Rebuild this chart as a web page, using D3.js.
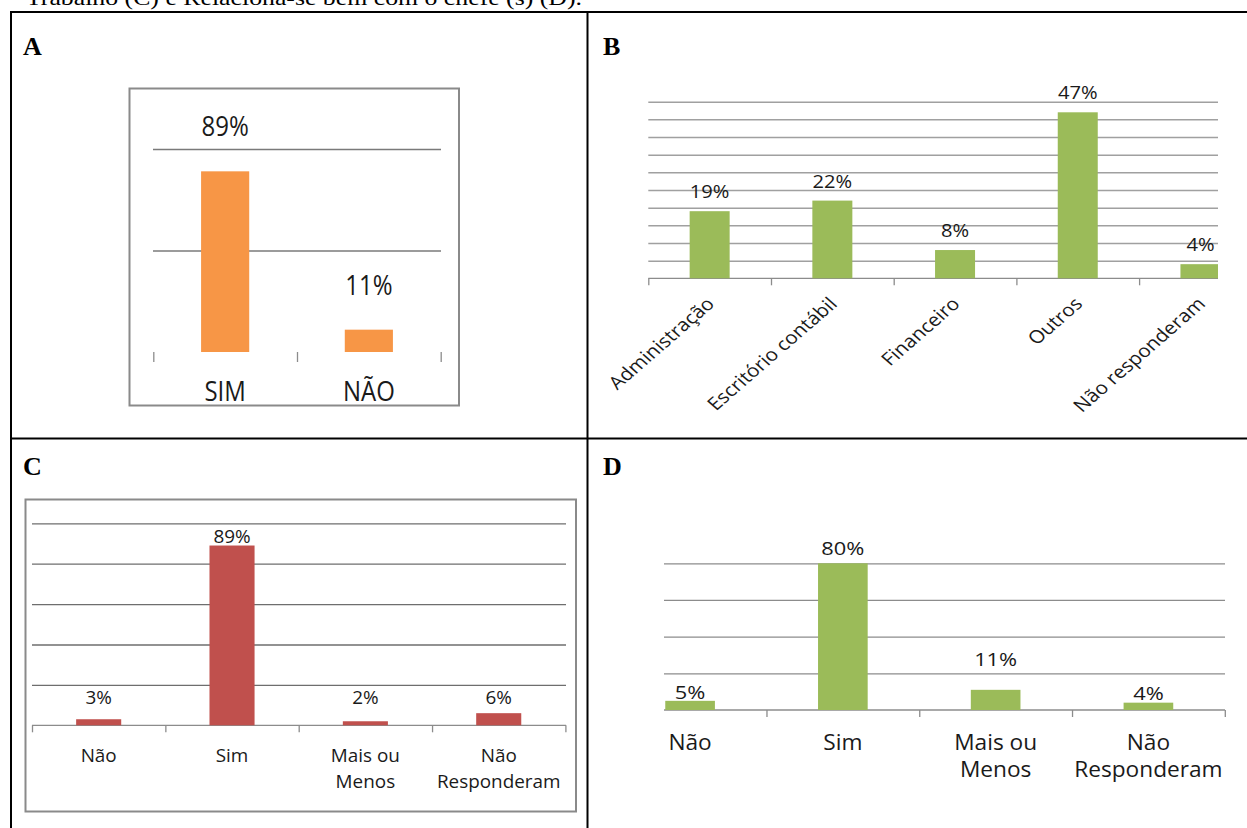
<!DOCTYPE html>
<html>
<head>
<meta charset="utf-8">
<script src="https://cdn.jsdelivr.net/npm/d3@7"></script>
<style>
  html, body { margin: 0; padding: 0; background: #fff; }
  svg { display: block; }
</style>
</head>
<body>
<svg id="fig" width="1247" height="828"></svg>
<script>
// ---- Painel A: trabalha na área? ----
const catA = ["SIM", "NÃO"];
const valA = [0.89, 0.11];
const gridA = [0.5, 1.0];

// ---- Painel B: área de atuação ----
const catB = ["Administração", "Escritório contábil", "Financeiro", "Outros", "Não responderam"];
const valB = [0.19, 0.22, 0.08, 0.47, 0.04];
const gridB = [0.05, 0.10, 0.15, 0.20, 0.25, 0.30, 0.35, 0.40, 0.45, 0.50];

// ---- Painel C: satisfação com o trabalho ----
const catC = [["Não"], ["Sim"], ["Mais ou", "Menos"], ["Não", "Responderam"]];
const valC = [0.03, 0.89, 0.02, 0.06];
const gridC = [0.2, 0.4, 0.6, 0.8, 1.0];

// ---- Painel D: relaciona-se bem com o chefe ----
const catD = [["Não"], ["Sim"], ["Mais ou", "Menos"], ["Não", "Responderam"]];
const valD = [0.05, 0.80, 0.11, 0.04];
const gridD = [0.2, 0.4, 0.6, 0.8];
const liftD = [2, 8, 24, 3];   // afastamento dos rótulos acima das barras

const pct = d3.format(".0%");
const svg = d3.select("#fig");
const defs = svg.append("defs");

svg.append("rect").attr("width", 1247).attr("height", 828).attr("fill", "#fff");

// texto do documento, cortado no topo
svg.append("text")
  .attr("x", 26).attr("y", 5)
  .attr("font-family", "'Liberation Serif', 'Times New Roman', serif")
  .attr("font-size", 21)
  .attr("textLength", 556).attr("lengthAdjust", "spacingAndGlyphs")
  .text("Trabalho (C) e Relaciona-se bem com o chefe (s) (D).");

// grade da tabela
const tbl = svg.append("g").attr("stroke", "#000").attr("stroke-width", 2);
tbl.append("line").attr("x1", 10).attr("x2", 1247).attr("y1", 12).attr("y2", 12);
tbl.append("line").attr("x1", 10).attr("x2", 1247).attr("y1", 438.5).attr("y2", 438.5);
tbl.append("line").attr("x1", 11).attr("x2", 11).attr("y1", 11).attr("y2", 828);
tbl.append("line").attr("x1", 587.5).attr("x2", 587.5).attr("y1", 11).attr("y2", 828);

// letras dos painéis
[["A", 23, 55], ["B", 603, 55], ["C", 23, 475], ["D", 603, 475]].forEach(([t, x, y]) => {
  svg.append("text").attr("x", x).attr("y", y)
    .attr("font-family", "'Liberation Serif', 'Times New Roman', serif")
    .attr("font-weight", "bold").attr("font-size", 26).text(t);
});

function label(g, x, y, lines, o) {
  const t = g.append("text")
    .attr("transform", `translate(${x},${y}) scale(${o.sx || 1},${o.sy || 1})${o.rot ? ` rotate(${o.rot})` : ""}`)
    .attr("font-family", "'Open Sans', 'Noto Sans', sans-serif")
    .attr("font-size", o.size)
    .attr("fill", "#1a1a1a")
    .attr("text-anchor", o.anchor || "middle");
  lines.forEach((s, i) => t.append("tspan").attr("x", 0).attr("y", i * (o.lh || 0)).text(s));
  return t;
}

function panel(o) {
  const g = svg.append("g");
  if (o.clip) {
    const id = "clip" + o.name;
    defs.append("clipPath").attr("id", id).append("rect")
      .attr("x", o.clip[0]).attr("y", o.clip[1]).attr("width", o.clip[2]).attr("height", o.clip[3]);
    g.attr("clip-path", `url(#${id})`);
  }
  const n = o.vals.length;
  const x = d3.scaleBand().domain(d3.range(n)).range([o.x0, o.x1]).padding(0);
  const y = d3.scaleLinear().domain([0, o.yMax]).range([o.yBase, o.yTop]);

  // linhas de grade horizontais
  const grid = g.append("g").attr("transform", `translate(${o.gx0},0)`)
    .call(d3.axisLeft(y).tickValues(o.grid).tickSize(-(o.gx1 - o.gx0)).tickFormat(""));
  grid.select(".domain").remove();
  grid.selectAll(".tick line").attr("stroke", o.gridColor).attr("stroke-width", o.gridWidth || 1.3);

  // eixo de categorias com marcas entre as barras
  const xs = d3.scaleLinear().domain([0, n]).range([o.x0, o.x1]);
  const ax = g.append("g").attr("transform", `translate(0,${o.yBase})`)
    .call(d3.axisBottom(xs).tickValues(d3.range(n + 1)).tickSize(o.tick).tickSizeOuter(0).tickFormat(""));
  ax.selectAll(".tick line").attr("stroke", "#8c8c8c").attr("stroke-width", 1.3);
  if (o.axisLine) {
    ax.select(".domain").attr("stroke", "#8c8c8c").attr("stroke-width", 1.3)
      .attr("d", `M${o.gx0},0H${o.gx1}`);
  } else {
    ax.select(".domain").remove();
  }

  // barras
  const bw = x.bandwidth() * o.frac;
  g.selectAll("rect.bar").data(o.vals).join("rect").attr("class", "bar")
    .attr("x", (d, i) => x(i) + (x.bandwidth() - bw) / 2)
    .attr("y", d => y(d))
    .attr("width", bw)
    .attr("height", d => y(0) - y(d))
    .attr("fill", o.color);

  // rótulos de valor
  o.vals.forEach((v, i) => {
    const cx = x(i) + x.bandwidth() / 2;
    label(g, cx, o.valueY(y, v, i), [pct(v)], o.valueFont);
  });

  // rótulos de categoria
  o.cats.forEach((c, i) => {
    const cx = x(i) + x.bandwidth() / 2;
    o.catDraw(g, cx, c);
  });
  return g;
}

// A
svg.append("rect").attr("x", 129.5).attr("y", 88.5).attr("width", 329.5).attr("height", 317)
  .attr("fill", "none").attr("stroke", "#8a8a8a").attr("stroke-width", 2);
panel({
  name: "A", vals: valA, cats: catA, grid: gridA,
  x0: 153.3, x1: 440.7, gx0: 153, gx1: 441, yBase: 352, yTop: 149, yMax: 1,
  frac: 0.335, color: "#F79646", gridColor: "#7a7a7a", gridWidth: 1.5, tick: 10, axisLine: false,
  valueY: (y, v) => y(v) - 35,
  valueFont: { size: 24, sy: 1.12 },
  catDraw: (g, cx, c) => label(g, cx, 401, [c], { size: 24, sy: 1.12 })
});

// B
panel({
  name: "B", vals: valB, cats: catB, grid: gridB, clip: [590, 60, 628, 380],
  x0: 648.3, x1: 648.3 + 5 * 122.7, gx0: 648.3, gx1: 1218, yBase: 278.3, yTop: 101.7, yMax: 0.5,
  frac: 0.326, color: "#9BBB59", gridColor: "#a0a0a0", gridWidth: 1.5, tick: 7, axisLine: true,
  valueY: (y, v) => y(v) - 13,
  valueFont: { size: 17.5, sx: 1.15 },
  catDraw: (g, cx, c) => label(g, cx + 6, 305, [c], { size: 18, sx: 1.15, rot: -45, anchor: "end" })
});

// C
svg.append("rect").attr("x", 25.5).attr("y", 499.5).attr("width", 550.5).attr("height", 312)
  .attr("fill", "none").attr("stroke", "#8a8a8a").attr("stroke-width", 2);
panel({
  name: "C", vals: valC, cats: catC, grid: gridC,
  x0: 32, x1: 565.4, gx0: 32, gx1: 566, yBase: 725.3, yTop: 523.3, yMax: 1,
  frac: 0.338, color: "#C0504D", gridColor: "#6e6e6e", gridWidth: 1.3, tick: 7, axisLine: true,
  valueY: (y, v) => Math.min(y(v) - 3, y(0) - 21),
  valueFont: { size: 18, sx: 1.05 },
  catDraw: (g, cx, c) => label(g, cx, 761.5, c, { size: 18, sx: 1.05, lh: 26.5 })
});

// D
panel({
  name: "D", vals: valD, cats: catD, grid: gridD, clip: [664, 500, 583, 320],
  x0: 613.7, x1: 1224.8, gx0: 664, gx1: 1225, yBase: 710, yTop: 563.3, yMax: 0.8,
  frac: 0.325, color: "#9BBB59", gridColor: "#8c8c8c", gridWidth: 1.3, tick: 7, axisLine: true,
  valueY: (y, v, i) => y(v) - liftD[i],
  valueFont: { size: 19, sx: 1.15 },
  catDraw: (g, cx, c) => label(g, cx, 750, c, { size: 21, sx: 1.08, lh: 27.5 })
});
</script>
</body>
</html>
